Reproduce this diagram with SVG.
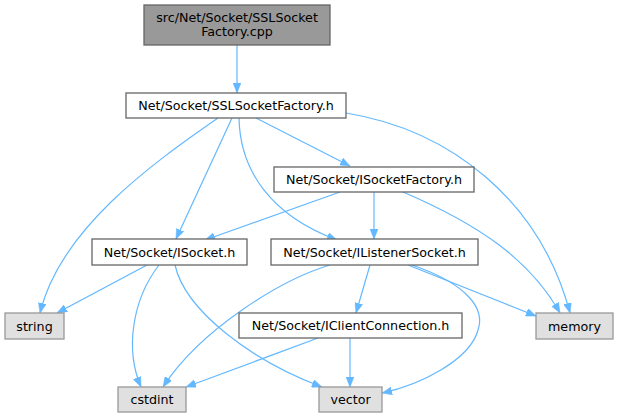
<svg xmlns="http://www.w3.org/2000/svg" width="619" height="417" viewBox="0 0 619 417">
<style>
  text { font-family: "DejaVu Sans", sans-serif; font-size: 12.7px; fill: #000; text-anchor: middle; }
  .n rect { fill: #ffffff; stroke: #666666; stroke-width: 1.3; }
  .root rect { fill: #999999; stroke: #666666; stroke-width: 1.3; }
  .leaf rect { fill: #e0e0e0; stroke: #999999; stroke-width: 1.3; }
  #edges path { fill: none; stroke: #63b8ff; stroke-width: 1.2; marker-end: url(#ah); }
</style>
<defs>
  <marker id="ah" markerUnits="userSpaceOnUse" markerWidth="11" markerHeight="8" refX="10" refY="4" orient="auto">
    <path d="M0,0 L10,4 L0,8 z" fill="#63b8ff" stroke="#63b8ff" stroke-width="0.5"/>
  </marker>
</defs>
<g id="edges">
  <path d="M237,45 L237,93"/>
  <path d="M218,118 C150,165 60,230 40,313"/>
  <path d="M232,118 L176,239"/>
  <path d="M239,118 C240,170 270,215 337,240"/>
  <path d="M256,118 L350,166"/>
  <path d="M346,113 C450,130 540,200 570,313"/>
  <path d="M340,192 L205,240"/>
  <path d="M374,192 L374,239"/>
  <path d="M403,192 C480,225 530,260 560,313"/>
  <path d="M147,265 L57,313"/>
  <path d="M159,265 C132,300 125,350 141,387"/>
  <path d="M175,265 C185,310 250,360 322,387"/>
  <path d="M330,265 C280,280 200,330 163,387"/>
  <path d="M370,265 L356,313"/>
  <path d="M408,265 L536,316"/>
  <path d="M412,265 C470,285 485,310 478,330 C470,360 420,385 382,393"/>
  <path d="M318,338 L186,387"/>
  <path d="M350,338 L350,387"/>
</g>
<g id="root" class="root"><rect x="144" y="5" width="186" height="40"/><text x="237" y="22">src/Net/Socket/SSLSocket</text><text x="237" y="36">Factory.cpp</text></g>
<g id="sslfactory" class="n"><rect x="126" y="93" width="220" height="25"/><text x="236" y="110">Net/Socket/SSLSocketFactory.h</text></g>
<g id="isocketfactory" class="n"><rect x="274" y="167" width="200" height="25"/><text x="374" y="184">Net/Socket/ISocketFactory.h</text></g>
<g id="isocket" class="n"><rect x="92" y="239" width="155" height="26"/><text x="169.5" y="256.5">Net/Socket/ISocket.h</text></g>
<g id="ilistener" class="n"><rect x="271" y="239" width="207" height="26"/><text x="374.5" y="256.5">Net/Socket/IListenerSocket.h</text></g>
<g id="iclient" class="n"><rect x="239" y="313" width="223" height="25"/><text x="350.5" y="330">Net/Socket/IClientConnection.h</text></g>
<g id="string" class="leaf"><rect x="5" y="313" width="59" height="26"/><text x="34.5" y="330.5">string</text></g>
<g id="memory" class="leaf"><rect x="536" y="313" width="77" height="26"/><text x="574.5" y="330.5">memory</text></g>
<g id="cstdint" class="leaf"><rect x="118" y="387" width="68" height="25"/><text x="152" y="404">cstdint</text></g>
<g id="vector" class="leaf"><rect x="319" y="387" width="63" height="25"/><text x="350.5" y="404">vector</text></g>
</svg>
